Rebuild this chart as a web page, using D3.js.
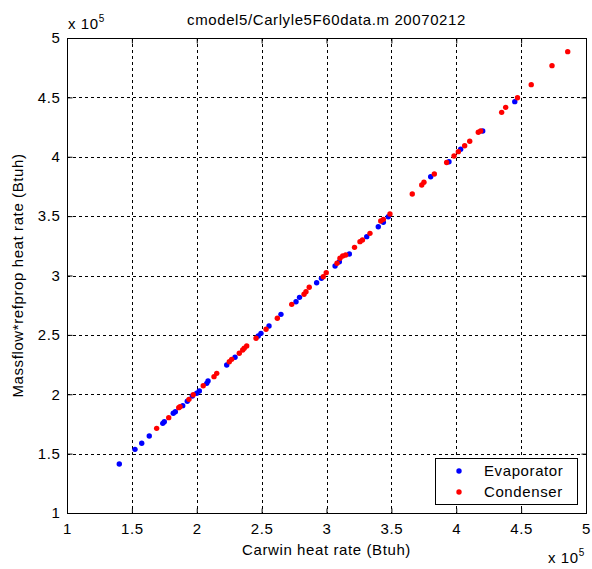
<!DOCTYPE html>
<html>
<head>
<meta charset="utf-8">
<script src="https://d3js.org/d3.v7.min.js"></script>
<style>
  body { margin: 0; background: #fff; }
  text { font-family: "Liberation Sans", Arial, sans-serif; fill: #000; font-size: 15px; letter-spacing: 0.6px; }
</style>
</head>
<body>
<svg id="chart" width="592" height="569"></svg>
<script>
// data (Btuh)
const evapX = [140300, 152400, 157600, 163400, 173800, 175000, 181900, 183500, 189200, 192700, 196600, 200000, 202000, 207700, 208700, 223100, 229500, 247400, 249500, 255700, 264900, 276500, 279200, 292400, 296100, 306600, 309900, 317600, 331000, 339900, 343800, 347600, 380300, 394400, 403400, 420400, 445100]
const evapY = [141300, 153600, 158700, 164800, 175500, 176900, 184000, 185300, 190400, 194100, 198500, 200800, 202700, 209200, 211200, 224600, 231100, 249100, 251300, 257500, 267300, 277900, 281600, 293900, 297600, 308000, 311600, 318100, 332700, 341100, 344800, 349500, 383200, 395800, 406300, 421700, 446400]
const condX = [169100, 178400, 186100, 187100, 194000, 197300, 205000, 213300, 215400, 225100, 226900, 232800, 235400, 236600, 238500, 245700, 253400, 262100, 273200, 282700, 284200, 286700, 297500, 299800, 308100, 310400, 312500, 314800, 321600, 325800, 327700, 333500, 341800, 343800, 348900, 366100, 373400, 375100, 383100, 392600, 398300, 401600, 406500, 410400, 417000, 418800, 435000, 438100, 447200, 457800, 473800, 485900]
const condY = [171300, 180300, 188700, 189500, 195700, 199600, 207200, 214800, 217600, 227400, 229400, 234500, 237300, 238700, 240600, 247100, 254700, 264000, 275700, 284200, 286400, 290100, 299000, 302400, 310300, 314500, 316400, 317300, 323700, 328500, 329900, 335500, 345900, 347300, 351800, 368600, 376200, 378500, 385500, 395200, 400600, 404300, 409300, 413000, 420600, 421700, 437400, 441600, 449700, 460700, 476700, 488500]
const xTicks = [1e5, 1.5e5, 2e5, 2.5e5, 3e5, 3.5e5, 4e5, 4.5e5, 5e5]
const yTicks = [1e5, 1.5e5, 2e5, 2.5e5, 3e5, 3.5e5, 4e5, 4.5e5, 5e5]
const seriesNames = ['Evaporator', 'Condenser']
const seriesColors = ['#0000ff', '#ff0000']

const pLeft = 67, pRight = 586, pTop = 38, pBottom = 513
const svg = d3.select('#chart')

let x = d3.scaleLinear().domain([1e5, 5e5]).range([pLeft, pRight])
let y = d3.scaleLinear().domain([1e5, 5e5]).range([pBottom, pTop])
let fmt = d => d3.format('~g')(d / 1e5)

// grid
let grid = svg.append('g').attr('stroke', '#000').attr('stroke-dasharray', '3,3').attr('stroke-width', 1)
grid.selectAll('.gx').data(xTicks.slice(1, -1)).enter().append('line')
  .attr('x1', d => Math.round(x(d)) + 0.5).attr('x2', d => Math.round(x(d)) + 0.5)
  .attr('y1', pTop).attr('y2', pBottom)
grid.selectAll('.gy').data(yTicks.slice(1, -1)).enter().append('line')
  .attr('y1', d => Math.round(y(d)) + 0.5).attr('y2', d => Math.round(y(d)) + 0.5)
  .attr('x1', pLeft).attr('x2', pRight)

// axes (matlab style: ticks inside, box all round)
svg.append('g').attr('transform', 'translate(0,' + (pBottom + 0.5) + ')')
  .call(d3.axisBottom(x).tickValues(xTicks).tickFormat(fmt).tickSizeInner(-5).tickSizeOuter(0).tickPadding(10))
svg.append('g').attr('transform', 'translate(' + (pLeft + 0.5) + ',0)')
  .call(d3.axisLeft(y).tickValues(yTicks).tickFormat(fmt).tickSizeInner(-5).tickSizeOuter(0).tickPadding(7))
svg.append('g').attr('transform', 'translate(0,' + (pTop + 0.5) + ')')
  .call(d3.axisTop(x).tickValues(xTicks).tickFormat('').tickSizeInner(-5).tickSizeOuter(0))
svg.append('g').attr('transform', 'translate(' + (pRight + 0.5) + ',0)')
  .call(d3.axisRight(y).tickValues(yTicks).tickFormat('').tickSizeInner(-5).tickSizeOuter(0))
svg.selectAll('.domain').remove()
svg.selectAll('.tick line').attr('stroke', '#000')
svg.selectAll('.tick text').style('font-size', '15px').attr('fill', '#000')
  .style('font-family', '"Liberation Sans", Arial, sans-serif')
svg.append('rect').attr('x', pLeft + 0.5).attr('y', pTop + 0.5)
  .attr('width', pRight - pLeft).attr('height', pBottom - pTop)
  .attr('fill', 'none').attr('stroke', '#000')

// points
let evap = evapX.map((v, i) => [v, evapY[i]])
let cond = condX.map((v, i) => [v, condY[i]])
svg.append('g').selectAll('circle').data(evap).enter().append('circle')
  .attr('cx', d => x(d[0])).attr('cy', d => y(d[1])).attr('r', 2.7).attr('fill', seriesColors[0])
svg.append('g').selectAll('circle').data(cond).enter().append('circle')
  .attr('cx', d => x(d[0])).attr('cy', d => y(d[1])).attr('r', 2.7).attr('fill', seriesColors[1])

// titles
svg.append('text').attr('x', (pLeft + pRight) / 2).attr('y', 25).attr('text-anchor', 'middle')
  .text('cmodel5/Carlyle5F60data.m 20070212')
svg.append('text').attr('x', (pLeft + pRight) / 2).attr('y', 555).attr('text-anchor', 'middle')
  .text('Carwin heat rate (Btuh)')
svg.append('text').attr('transform', 'translate(23,' + ((pTop + pBottom) / 2) + ') rotate(-90)')
  .attr('text-anchor', 'middle').text('Massflow*refprop heat rate (Btuh)')

// exponent labels
function expLabel(px, py) {
  let t = svg.append('text').attr('x', px).attr('y', py)
  t.append('tspan').text('x 10')
  t.append('tspan').attr('dy', -7).style('font-size', '10px').text('5')
}
expLabel(68, 29)
expLabel(548, 563)

// legend
let lg = svg.append('g')
lg.append('rect').attr('x', 435.5).attr('y', 458.5).attr('width', 142).attr('height', 46)
  .attr('fill', '#fff').attr('stroke', '#000')
seriesNames.forEach((n, i) => {
  lg.append('circle').attr('cx', 459).attr('cy', 471 + i * 21).attr('r', 2.7).attr('fill', seriesColors[i])
  lg.append('text').attr('x', 484).attr('y', 476 + i * 21).text(n)
})
</script>
</body>
</html>
